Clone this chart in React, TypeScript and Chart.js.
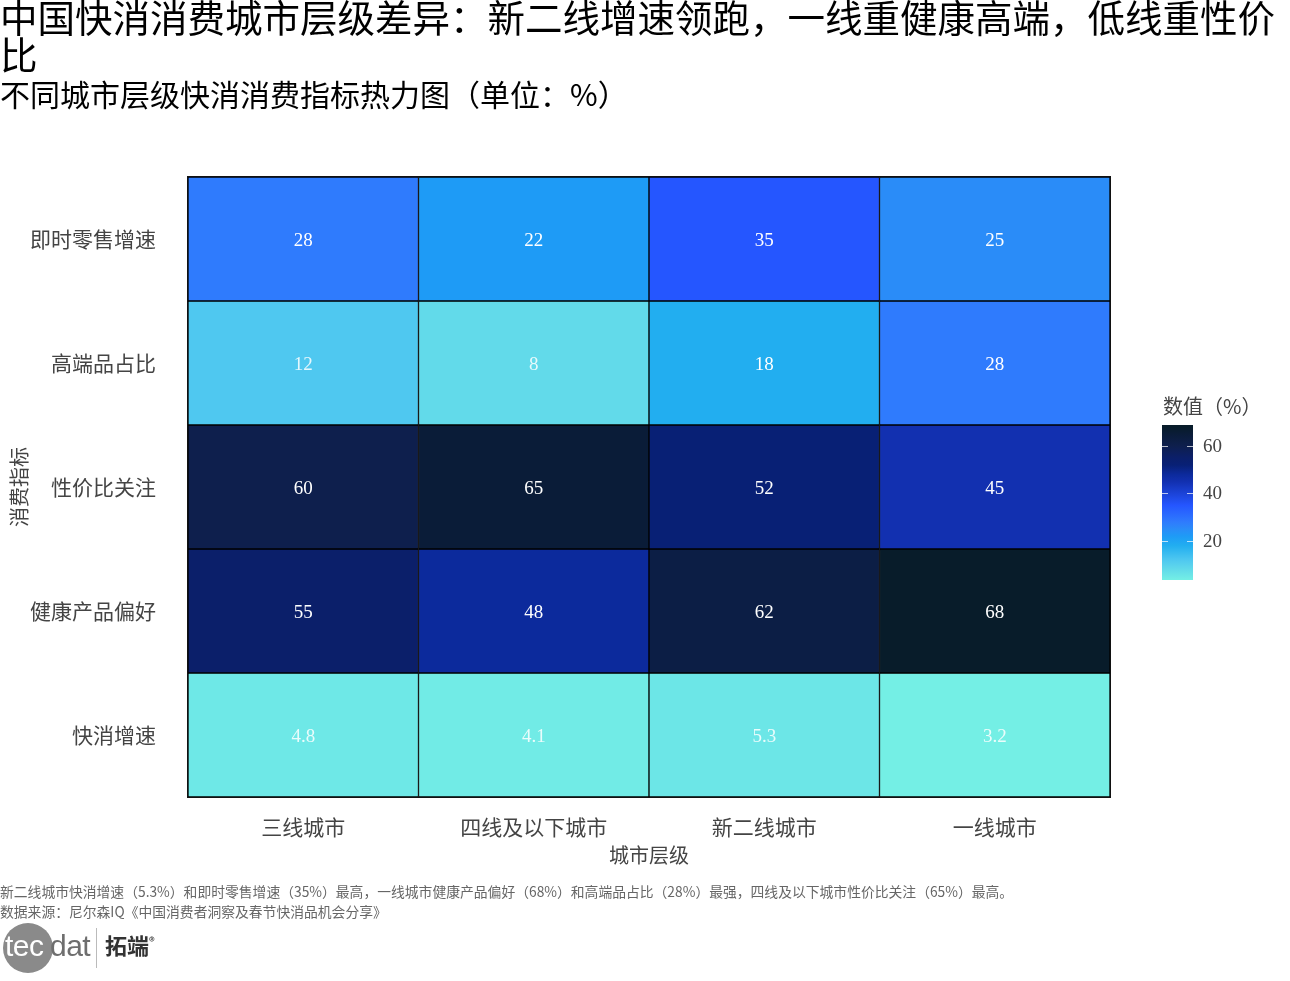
import React, { useEffect, useRef } from 'react';
import { Chart, registerables } from 'chart.js';

Chart.register(...registerables);

// ---- data ----
const cities = ['三线城市', '四线及以下城市', '新二线城市', '一线城市'];
const indicators = ['即时零售增速', '高端品占比', '性价比关注', '健康产品偏好', '快消增速'];
const instantRetailGrowth = [28, 22, 35, 25];
const premiumShare = [12, 8, 18, 28];
const valueForMoney = [60, 65, 52, 45];
const healthPreference = [55, 48, 62, 68];
const fmcgGrowth = [4.8, 4.1, 5.3, 3.2];
const seriesValues = [instantRetailGrowth, premiumShare, valueForMoney, healthPreference, fmcgGrowth];
const colorbarTicks = [20, 40, 60];
const colorbarMin = 3.6;
const colorbarMax = 68.8;

// ---- colour scale (value -> colour) ----
const colorStops: [number, string][] = [
  [3.2, '#74EFE5'],
  [8, '#62DAEA'],
  [12, '#4FC8F0'],
  [18, '#22AEF0'],
  [22, '#1E9BF6'],
  [25, '#2A8CF8'],
  [28, '#2F7BFD'],
  [35, '#2556FF'],
  [45, '#1230B0'],
  [48, '#0C2A9C'],
  [52, '#082075'],
  [55, '#0B1F6A'],
  [60, '#0E1F4D'],
  [65, '#0A1C38'],
  [68, '#081C2A'],
];

function hexToRgb(h: string) {
  const n = parseInt(h.slice(1), 16);
  return [(n >> 16) & 255, (n >> 8) & 255, n & 255];
}

function colorFor(v: number) {
  if (v <= colorStops[0][0]) return colorStops[0][1];
  for (let i = 1; i < colorStops.length; i++) {
    const [v1, c1] = colorStops[i];
    const [v0, c0] = colorStops[i - 1];
    if (v <= v1) {
      const t = (v - v0) / (v1 - v0);
      const a = hexToRgb(c0);
      const b = hexToRgb(c1);
      const r = a.map((x, k) => Math.round(x + (b[k] - x) * t));
      return `rgb(${r[0]},${r[1]},${r[2]})`;
    }
  }
  return colorStops[colorStops.length - 1][1];
}

const CJK = '"Noto Sans CJK SC", "Noto Sans", sans-serif';
const NUM = '"Liberation Serif", "DejaVu Serif", serif';

const cellLabelPlugin = {
  id: 'cellLabels',
  afterDatasetsDraw(chart: any) {
    const ctx = chart.ctx;
    const a = chart.chartArea;
    ctx.save();
    // outer frame
    ctx.strokeStyle = '#111';
    ctx.lineWidth = 1;
    ctx.strokeRect(a.left - 0.5, a.top - 0.5, a.right - a.left + 1, a.bottom - a.top + 1);
    ctx.font = `19px ${NUM}`;
    ctx.textAlign = 'center';
    ctx.textBaseline = 'middle';
    chart.data.datasets.forEach((ds: any, i: number) => {
      const meta = chart.getDatasetMeta(i);
      meta.data.forEach((bar: any, j: number) => {
        const v = seriesValues[i][j];
        const cy = (bar.y + bar.base) / 2 + 2.5;
        ctx.fillStyle = v < 15 ? 'rgba(255,255,255,0.85)' : '#ffffff';
        ctx.fillText(String(v), bar.x, cy);
      });
    });
    ctx.restore();
  },
};

const colorbarPlugin = {
  id: 'colorbar',
  afterDraw(chart: any) {
    const ctx = chart.ctx;
    const area = chart.chartArea;
    const x0 = area.right + 52;
    const w = 31;
    const top = area.top + 248;
    const h = 155;
    const yOf = (v: number) => top + ((colorbarMax - v) / (colorbarMax - colorbarMin)) * h;
    ctx.save();
    const g = ctx.createLinearGradient(0, top, 0, top + h);
    colorStops.forEach(([v, c]) => {
      const p = (colorbarMax - v) / (colorbarMax - colorbarMin);
      g.addColorStop(Math.min(1, Math.max(0, p)), c);
    });
    ctx.fillStyle = g;
    ctx.fillRect(x0, top, w, h);
    // ticks
    ctx.strokeStyle = 'rgba(255,255,255,0.7)';
    ctx.lineWidth = 1;
    ctx.font = `19px ${NUM}`;
    ctx.fillStyle = '#444';
    ctx.textAlign = 'left';
    ctx.textBaseline = 'middle';
    colorbarTicks.forEach((t) => {
      const y = Math.round(yOf(t)) + 0.5;
      ctx.beginPath();
      ctx.moveTo(x0, y);
      ctx.lineTo(x0 + 6, y);
      ctx.moveTo(x0 + w - 6, y);
      ctx.lineTo(x0 + w, y);
      ctx.stroke();
      ctx.fillText(String(t), x0 + w + 10, y + 1);
    });
    // title
    ctx.font = `20px ${CJK}`;
    ctx.fillStyle = '#444';
    ctx.textBaseline = 'middle';
    ctx.fillText('数值（%）', x0 + 1, top - 19);
    ctx.restore();
  },
};

export default function App() {
  const ref = useRef<HTMLCanvasElement | null>(null);

  useEffect(() => {
    if (!ref.current) return;
    const datasets = indicators.map((name, i) => ({
      label: name,
      data: cities.map(() => [i - 0.5, i + 0.5]),
      backgroundColor: seriesValues[i].map(colorFor),
      borderColor: '#000000',
      borderWidth: 1,
      borderSkipped: false,
      grouped: false,
      barPercentage: 1,
      categoryPercentage: 1,
    }));
    const chart = new Chart(ref.current, {
      type: 'bar',
      data: { labels: cities, datasets: datasets as any },
      options: {
        responsive: false,
        animation: false,
        devicePixelRatio: 1,
        layout: { padding: { left: 0, right: 180, top: 177, bottom: 114 } },
        plugins: {
          legend: { display: false },
          tooltip: { enabled: false },
          title: { display: false },
        },
        scales: {
          x: {
            type: 'category',
            offset: true,
            grid: { display: false, drawTicks: false },
            border: { display: false },
            ticks: { color: '#444', font: { family: CJK, size: 21 }, padding: 17 },
            title: {
              display: true,
              text: '城市层级',
              color: '#444',
              font: { family: CJK, size: 20 },
              padding: 0,
            },
            afterFit: (s: any) => {
              s.height = 70;
            },
          },
          y: {
            type: 'linear',
            min: -0.5,
            max: 4.5,
            reverse: true,
            grid: { display: false, drawTicks: false },
            border: { display: false },
            afterBuildTicks: (s: any) => {
              s.ticks = indicators.map((_, i) => ({ value: i }));
            },
            ticks: {
              color: '#444',
              font: { family: CJK, size: 21 },
              padding: 32,
              callback: (v: any) => indicators[Math.round(Number(v))] ?? '',
            },
            title: {
              display: true,
              text: '消费指标',
              color: '#444',
              font: { family: CJK, size: 20 },
              padding: { top: 7, bottom: 0 },
            },
            afterFit: (s: any) => {
              s.width = 188;
            },
          },
        },
      },
      plugins: [cellLabelPlugin, colorbarPlugin],
    });
    return () => chart.destroy();
  }, []);

  return (
    <div style={{ position: 'absolute', left: 0, top: 0, width: 1290, height: 981, background: '#fff', overflow: 'hidden' }}>
      <canvas ref={ref} width={1290} height={981} style={{ position: 'absolute', left: 0, top: 0 }} />
      <div
        style={{
          position: 'absolute',
          left: 0,
          top: -3,
          width: 1290,
          fontFamily: CJK,
          fontSize: 37.5,
          lineHeight: '37px',
          color: '#000',
        }}
      >
        中国快消消费城市层级差异：新二线增速领跑，一线重健康高端，低线重性价比
      </div>
      <div
        style={{
          position: 'absolute',
          left: 0,
          top: 76,
          fontFamily: CJK,
          fontSize: 30,
          lineHeight: '34px',
          color: '#000',
        }}
      >
        不同城市层级快消消费指标热力图（单位：%）
      </div>
      <div
        style={{
          position: 'absolute',
          left: 0,
          top: 881,
          fontFamily: CJK,
          fontSize: 13.8,
          lineHeight: '20px',
          color: '#666',
          whiteSpace: 'nowrap',
        }}
      >
        <div>新二线城市快消增速（5.3%）和即时零售增速（35%）最高，一线城市健康产品偏好（68%）和高端品占比（28%）最强，四线及以下城市性价比关注（65%）最高。</div>
        <div>数据来源：尼尔森IQ《中国消费者洞察及春节快消品机会分享》</div>
      </div>
      <div style={{ position: 'absolute', left: 0, top: 922, height: 54, width: 200 }}>
        <div
          style={{
            position: 'absolute',
            left: 3,
            top: 1,
            width: 50,
            height: 50,
            borderRadius: 25,
            background: '#8a8a8a',
          }}
        />
        <div
          style={{
            position: 'absolute',
            left: 5,
            top: 6,
            fontFamily: '"Liberation Sans", Arial, sans-serif',
            fontSize: 30,
            lineHeight: '36px',
            letterSpacing: -0.5,
            color: '#fff',
          }}
        >
          tec
        </div>
        <div
          style={{
            position: 'absolute',
            left: 50,
            top: 6,
            fontFamily: '"Liberation Sans", Arial, sans-serif',
            fontSize: 30,
            lineHeight: '36px',
            letterSpacing: -0.5,
            color: '#6e6e6e',
          }}
        >
          dat
        </div>
        <div style={{ position: 'absolute', left: 96, top: 6, width: 1, height: 40, background: '#bbb' }} />
        <div
          style={{
            position: 'absolute',
            left: 105,
            top: 5,
            fontFamily: CJK,
            fontWeight: 700,
            fontSize: 22,
            lineHeight: '28px',
            color: '#333',
          }}
        >
          拓端<sup style={{ fontSize: 12, fontWeight: 400 }}>®</sup>
        </div>
      </div>
    </div>
  );
}
